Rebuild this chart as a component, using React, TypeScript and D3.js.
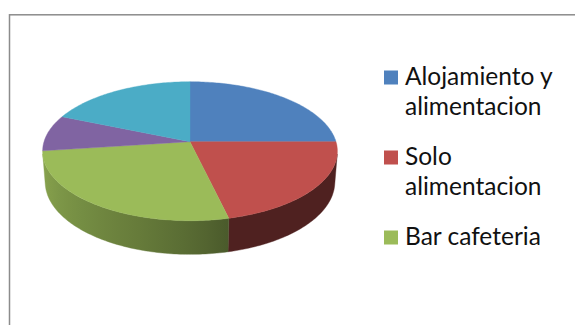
import React from "react";
import * as d3 from "d3";

// ---- data ----
const categories = [
  "Alojamiento y alimentacion",
  "Solo alimentacion",
  "Bar cafeteria",
  "Solo alojamiento",
  "Otros",
];
const values = [25.0, 21.3, 26.6, 8.4, 18.7];
const colors = ["#4F81BD", "#C0504D", "#9BBB59", "#8064A2", "#4BACC6"];
const legendLines = [
  ["Alojamiento y", "alimentacion"],
  ["Solo", "alimentacion"],
  ["Bar cafeteria"],
];

// ---- layout ----
const W = 575;
const H = 325;
const CX = 190;
const CY = 141.7;
const FOCAL = 941.7;
const DIST = 6.45;
const SIN_A = 0.467;
const COS_A = Math.sqrt(1 - SIN_A * SIN_A);
const DEPTH = 0.24;

function project(t: number, y: number): [number, number] {
  const X = Math.cos(t);
  const Z = Math.sin(t);
  const depth = DIST - y * SIN_A - Z * COS_A;
  const up = y * COS_A - Z * SIN_A;
  return [CX + (FOCAL * X) / depth, CY - (FOCAL * up) / depth];
}

const tVisMin = Math.asin(1 / (DIST * COS_A));
const tVisMax = Math.PI - tVisMin;

function shadeFactor(t: number, idx: number): number {
  const deg = (t * 180) / Math.PI;
  const base = idx === 1 ? 0.41 : 0.48;
  if (deg <= 78) return base;
  const u = Math.min(1, (deg - 78) / 95);
  return base + (0.9 - base) * Math.pow(u, 0.75);
}

export default function App() {
  const pie = d3
    .pie<number>()
    .sort(null)
    .value((d) => d)
    .startAngle(0)
    .endAngle(2 * Math.PI);
  const arcs = pie(values);
  const line = d3.line<[number, number]>().x((d) => d[0]).y((d) => d[1]);

  const sample = (t0: number, t1: number, y: number) => {
    const n = Math.max(2, Math.ceil(((t1 - t0) * 180) / Math.PI));
    const pts: [number, number][] = [];
    for (let i = 0; i <= n; i++) pts.push(project(t0 + ((t1 - t0) * i) / n, y));
    return pts;
  };

  const slices = arcs.map((a, i) => {
    const t0 = a.startAngle - Math.PI / 2;
    const t1 = a.endAngle - Math.PI / 2;
    const top = line([[CX, CY], ...sample(t0, t1, 0)]) + "Z";
    let wall: string | null = null;
    let grad: { x1: number; x2: number; stops: { o: number; c: string }[] } | null = null;
    const w0 = Math.max(t0, tVisMin);
    const w1 = Math.min(t1, tVisMax);
    if (w1 > w0) {
      const upper = sample(w0, w1, 0);
      const lower = sample(w0, w1, -DEPTH).reverse();
      wall = line([...upper, ...lower]) + "Z";
      const xA = project(w0, 0)[0];
      const xB = project(w1, 0)[0];
      const stops: { o: number; c: string }[] = [];
      const n = 12;
      for (let k = 0; k <= n; k++) {
        const t = w0 + ((w1 - w0) * k) / n;
        const x = project(t, 0)[0];
        const f = shadeFactor(t, i);
        const c = d3.rgb(colors[i]);
        stops.push({
          o: (x - xA) / (xB - xA || 1),
          c: d3.rgb(c.r * f, c.g * f, c.b * f).formatHex(),
        });
      }
      grad = { x1: xA, x2: xB, stops: stops.sort((p, q) => p.o - q.o) };
    }
    return { top, wall, grad, color: colors[i] };
  });

  const legendX = 384;
  const legendTextX = 405;
  const firstBaseline = 85;
  const entryGap = 80;
  const lineGap = 30;

  return (
    <svg
      width={W}
      height={H}
      style={{ position: "absolute", left: 0, top: 0, background: "#fff" }}
    >
      <defs>
        {slices.map((s, i) =>
          s.grad ? (
            <linearGradient
              key={i}
              id={`wall${i}`}
              gradientUnits="userSpaceOnUse"
              x1={s.grad.x1}
              x2={s.grad.x2}
              y1={0}
              y2={0}
            >
              {s.grad.stops.map((st, k) => (
                <stop key={k} offset={st.o} stopColor={st.c} />
              ))}
            </linearGradient>
          ) : null
        )}
      </defs>
      <rect x={9.5} y={14.8} width={700} height={500} fill="#fff" stroke="#8c8c8c" strokeWidth={1.5} />
      {slices.map((s, i) =>
        s.wall ? (
          <path key={`w${i}`} d={s.wall} fill={`url(#wall${i})`} stroke={`url(#wall${i})`} strokeWidth={0.4} />
        ) : null
      )}
      {slices.map((s, i) => (
        <path key={`t${i}`} d={s.top} fill={s.color} stroke={s.color} strokeWidth={0.4} />
      ))}
      {legendLines.map((lines, i) => {
        const by = firstBaseline + i * entryGap;
        return (
          <g key={i}>
            <rect x={legendX} y={by - 14.5} width={14} height={14} fill={colors[i]} />
            {lines.map((ln, k) => (
              <text
                key={k}
                x={legendTextX}
                y={by + k * lineGap}
                fontFamily="Lato, 'Open Sans', sans-serif"
                fontSize={24.5}
                fill="#111"
              >
                {ln}
              </text>
            ))}
          </g>
        );
      })}
    </svg>
  );
}
